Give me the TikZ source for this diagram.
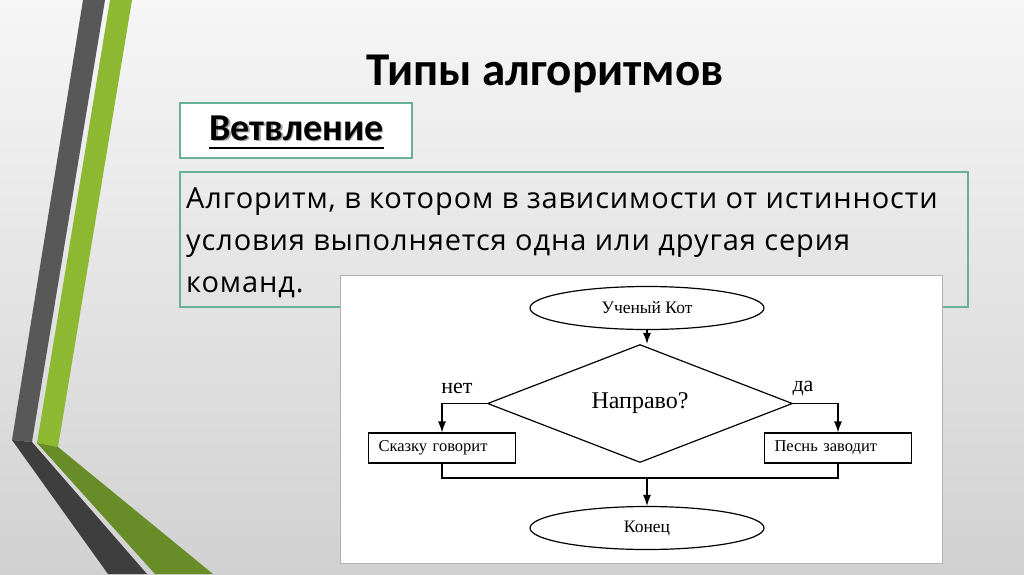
\documentclass[tikz,border=0pt]{standalone}
\usepackage{fontspec}
\setmainfont{Liberation Serif}
\newfontfamily\slidefont{Carlito}
\newfontfamily\bodyfont[LetterSpace=3.0]{Open Sans}
\usetikzlibrary{shapes.geometric, arrows.meta}

\definecolor{framegreen}{RGB}{104,176,154}
\definecolor{stripegray}{RGB}{88,88,88}
\definecolor{stripedark}{RGB}{62,62,62}
\definecolor{stripegreen}{RGB}{140,184,50}
\definecolor{stripeolive}{RGB}{104,140,40}

\tikzset{
    term/.style={draw, ellipse, line width=1.2pt, minimum width=234pt, minimum height=43pt, inner sep=0pt, font=\fontsize{17.5}{19}\selectfont},
    ask/.style={draw, diamond, line width=1.2pt, minimum width=305pt, minimum height=87pt, inner sep=0pt, font=\fontsize{24}{26}\selectfont},
    act/.style={draw, rectangle, line width=1.2pt, minimum height=30pt, text width=127pt, inner xsep=10pt, align=left, font=\fontsize{16.5}{18}\selectfont},
    branch/.style={font=\fontsize{22}{24}\selectfont},
    flow/.style={-{Latex[length=11pt, width=8pt]}, line width=1.2pt}
}

\begin{document}
\begin{tikzpicture}[x=1pt, y=-1pt]
        \useasboundingbox (0, 0) rectangle (1024, 574);
        \shade[top color=gray!7, bottom color=gray!36] (0, 0) rectangle (1024, 574);

        % stripes on the left
        \fill[stripegray] (83, 0) -- (105, 0) -- (32, 442) -- (12, 440) -- cycle;
        \fill[stripedark] (12, 440) -- (32, 442) -- (147, 574) -- (108, 574) -- cycle;
        \fill[stripegreen] (110, 0) -- (132, 0) -- (58, 447) -- (37, 443) -- cycle;
        \fill[stripeolive] (37, 443) -- (58, 447) -- (213, 574) -- (155, 574) -- cycle;

        \node[anchor=base, inner sep=0pt, font=\slidefont\bfseries\fontsize{47}{50}\selectfont] (title) at (545, 85) {Типы алгоритмов};

        \draw[framegreen, fill=white, line width=1.2pt] (180, 103) rectangle (412, 158);
        \node[anchor=base, inner sep=0pt, gray!70, font=\slidefont\bfseries\fontsize{38}{40}\selectfont] (vetvshadow) at (298, 141.5) {Ветвление};
        \node[anchor=base, inner sep=0pt, font=\slidefont\bfseries\fontsize{38}{40}\selectfont] (vetv) at (296.5, 140) {Ветвление};
        \draw[line width=2.4pt] ([yshift=-8pt]vetv.base west) -- ([yshift=-8pt]vetv.base east);

        \draw[framegreen, line width=1.2pt] (180, 172) rectangle (968, 307);
        \node[anchor=base west, inner sep=0pt, font=\bodyfont\fontsize{29}{42}\selectfont] (def) at (186, 208)
            {Алгоритм, в котором в зависимости от истинности};
        \node[anchor=base west, inner sep=0pt, font=\bodyfont\fontsize{29}{42}\selectfont] (def2) at (186, 250)
            {условия выполняется одна или другая серия};
        \node[anchor=base west, inner sep=0pt, font=\bodyfont\fontsize{29}{42}\selectfont] (def3) at (186, 292)
            {команд.};

        \draw[gray!60, fill=white] (340, 275) rectangle (942, 563);

        \node[term] (start) at (647, 308) {Ученый Кот};
        \node[ask] (cond) at (640, 403.5) {\raisebox{5pt}{Направо?}};
        \node[act] (left) at (442, 448) {Сказку говорит};
        \node[act] (right) at (838, 448) {Песнь заводит};
        \node[term] (finish) at (647, 528) {Конец};
        \coordinate (join) at (647, 478);

        \node[branch] (no) at (457, 388) {нет};
        \node[branch] (yes) at (803, 388) {да};

        \draw[flow] (start.south) -- (start.south |- cond.north);
        \draw[flow] (cond.west) -| (left.north);
        \draw[flow] (cond.east) -| (right.north);
        \draw[line width=1.2pt] (left.south) |- (join) -| (right.south);
        \draw[flow] (join) -- (finish.north);
    \end{tikzpicture}
\end{document}
